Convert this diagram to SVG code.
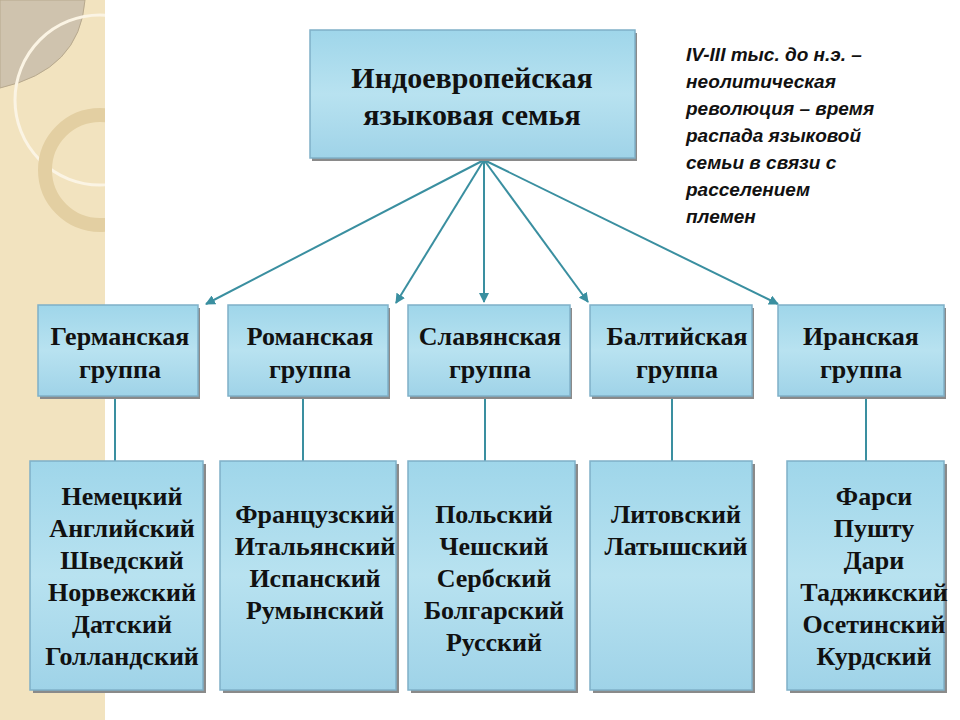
<svg xmlns="http://www.w3.org/2000/svg" width="960" height="720" viewBox="0 0 960 720">
<defs>
<linearGradient id="g" x1="0" y1="0" x2="0" y2="1"><stop offset="0" stop-color="#9fd6ea"/><stop offset="0.5" stop-color="#b8e2f0"/><stop offset="1" stop-color="#9fd3e8"/></linearGradient>
<marker id="a" viewBox="0 0 10 10" refX="9" refY="5" markerWidth="5" markerHeight="5" orient="auto"><path d="M0,0L10,5L0,10z" fill="#3a8fa0"/></marker>
<clipPath id="cl"><rect x="0" y="0" width="105" height="720"/></clipPath>
</defs>
<style>
.b{fill:url(#g);stroke:#7fb0c8;stroke-width:1.5}
.s{fill:#8a8a8a}
text{font-family:"Liberation Serif","DejaVu Serif",serif;font-weight:bold;fill:#111;text-anchor:middle}
.t{font-size:26px}
.n{font-family:"Liberation Sans",sans-serif;font-style:italic;font-size:19px;text-anchor:start}
.c line{stroke:#3a8fa0;stroke-width:2}
</style>
<rect x="0" y="0" width="105" height="720" fill="#f2e3bf"/>
<g clip-path="url(#cl)">
<path d="M0,0H85Q80,70 0,88Z" fill="#cfc3ae" stroke="#b8a98d"/>
<circle cx="100" cy="100" r="85" fill="none" stroke="#fbf4e4" stroke-width="3"/>
<circle cx="100" cy="170" r="55" fill="none" stroke="#e3cfa2" stroke-width="14"/>
</g>
<g class="c">
<line x1="484" y1="160" x2="206" y2="304" marker-end="url(#a)"/>
<line x1="484" y1="160" x2="396" y2="303" marker-end="url(#a)"/>
<line x1="484" y1="160" x2="484" y2="302" marker-end="url(#a)"/>
<line x1="484" y1="160" x2="588" y2="302" marker-end="url(#a)"/>
<line x1="484" y1="160" x2="778" y2="304" marker-end="url(#a)"/>
<line x1="115" y1="397" x2="115" y2="461"/>
<line x1="303" y1="397" x2="303" y2="461"/>
<line x1="485" y1="397" x2="485" y2="461"/>
<line x1="672" y1="397" x2="672" y2="461"/>
<line x1="866" y1="397" x2="866" y2="461"/>
</g>
<g id="root"><rect class="s" x="312" y="33" width="325" height="128"/><rect class="b" x="310" y="30" width="325" height="128"/><text x="472" y="88" font-size="30">Индоевропейская</text><text x="472" y="125" font-size="30">языковая семья</text></g>
<g id="g1"><rect class="s" x="40" y="308" width="160" height="91"/><rect class="b" x="38" y="305" width="160" height="91"/><text class="t" x="120" y="345">Германская</text><text class="t" x="120" y="378">группа</text></g>
<g id="g2"><rect class="s" x="230" y="308" width="160" height="91"/><rect class="b" x="228" y="305" width="160" height="91"/><text class="t" x="310" y="345">Романская</text><text class="t" x="310" y="378">группа</text></g>
<g id="g3"><rect class="s" x="410" y="308" width="162" height="91"/><rect class="b" x="408" y="305" width="162" height="91"/><text class="t" x="490" y="345">Славянская</text><text class="t" x="490" y="378">группа</text></g>
<g id="g4"><rect class="s" x="592" y="308" width="162" height="91"/><rect class="b" x="590" y="305" width="162" height="91"/><text class="t" x="677" y="345">Балтийская</text><text class="t" x="677" y="378">группа</text></g>
<g id="g5"><rect class="s" x="780" y="308" width="166" height="91"/><rect class="b" x="778" y="305" width="166" height="91"/><text class="t" x="861" y="345">Иранская</text><text class="t" x="861" y="378">группа</text></g>
<g id="l1"><rect class="s" x="33" y="464" width="173" height="229"/><rect class="b" x="30" y="461" width="173" height="229"/>
<text class="t" x="122" y="505">Немецкий</text><text class="t" x="122" y="537">Английский</text><text class="t" x="122" y="569">Шведский</text><text class="t" x="122" y="601">Норвежский</text><text class="t" x="122" y="633">Датский</text><text class="t" x="122" y="665">Голландский</text></g>
<g id="l2"><rect class="s" x="223" y="464" width="176" height="229"/><rect class="b" x="220" y="461" width="176" height="229"/>
<text class="t" x="315" y="523">Французский</text><text class="t" x="315" y="555">Итальянский</text><text class="t" x="315" y="587">Испанский</text><text class="t" x="315" y="619">Румынский</text></g>
<g id="l3"><rect class="s" x="411" y="464" width="167" height="229"/><rect class="b" x="408" y="461" width="167" height="229"/>
<text class="t" x="494" y="523">Польский</text><text class="t" x="494" y="555">Чешский</text><text class="t" x="494" y="587">Сербский</text><text class="t" x="494" y="619">Болгарский</text><text class="t" x="494" y="651">Русский</text></g>
<g id="l4"><rect class="s" x="593" y="464" width="162" height="229"/><rect class="b" x="590" y="461" width="162" height="229"/>
<text class="t" x="676" y="523">Литовский</text><text class="t" x="676" y="555">Латышский</text></g>
<g id="l5"><rect class="s" x="790" y="464" width="157" height="229"/><rect class="b" x="787" y="461" width="157" height="229"/>
<text class="t" x="874" y="505">Фарси</text><text class="t" x="874" y="537">Пушту</text><text class="t" x="874" y="569">Дари</text><text class="t" x="874" y="601">Таджикский</text><text class="t" x="874" y="633">Осетинский</text><text class="t" x="874" y="665">Курдский</text></g>
<g id="note"><text class="n" x="686" y="61">IV-III тыс. до н.э. –</text><text class="n" x="686" y="88">неолитическая</text><text class="n" x="686" y="115">революция – время</text><text class="n" x="686" y="142">распада языковой</text><text class="n" x="686" y="169">семьи в связи с</text><text class="n" x="686" y="196">расселением</text><text class="n" x="686" y="223">племен</text></g>
</svg>
